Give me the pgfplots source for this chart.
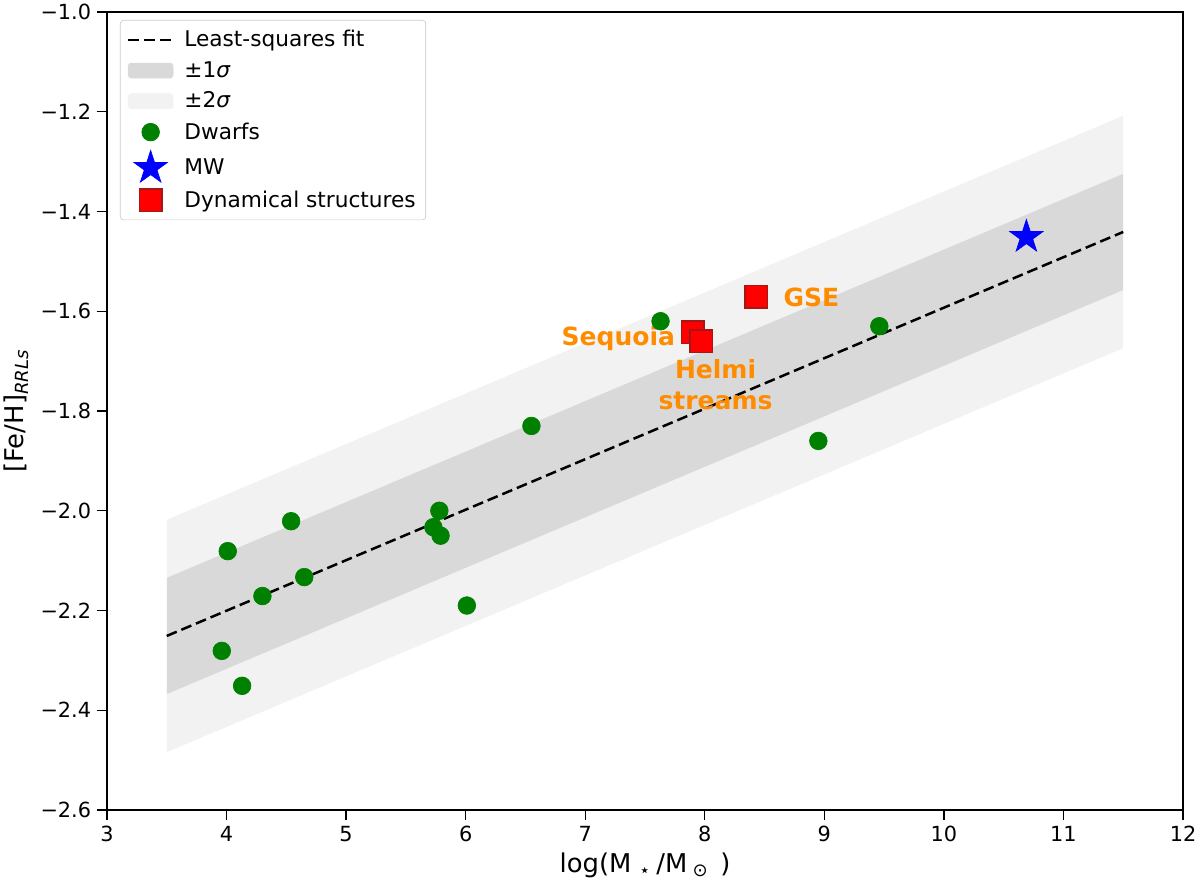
\documentclass[border=0pt]{standalone}
\usepackage{fontspec}
\setmainfont{DejaVu Sans}
\usepackage{pgfplots}
\pgfplotsset{compat=1.18}
\definecolor{sigone}{HTML}{D9D9D9}
\definecolor{sigtwo}{HTML}{F2F2F2}
\definecolor{dgreen}{HTML}{008000}
\definecolor{dorange}{HTML}{FF8C00}
\definecolor{sqedge}{HTML}{A01818}
\pgfdeclareplotmark{fstar}{%
 \pgfpathmoveto{\pgfpointpolar{90}{\pgfplotmarksize}}%
 \pgfpathlineto{\pgfpointpolar{126}{0.382\pgfplotmarksize}}%
 \pgfpathlineto{\pgfpointpolar{162}{\pgfplotmarksize}}%
 \pgfpathlineto{\pgfpointpolar{198}{0.382\pgfplotmarksize}}%
 \pgfpathlineto{\pgfpointpolar{234}{\pgfplotmarksize}}%
 \pgfpathlineto{\pgfpointpolar{270}{0.382\pgfplotmarksize}}%
 \pgfpathlineto{\pgfpointpolar{306}{\pgfplotmarksize}}%
 \pgfpathlineto{\pgfpointpolar{342}{0.382\pgfplotmarksize}}%
 \pgfpathlineto{\pgfpointpolar{18}{\pgfplotmarksize}}%
 \pgfpathlineto{\pgfpointpolar{54}{0.382\pgfplotmarksize}}%
 \pgfpathclose\pgfusepathqfillstroke}
\begin{document}
\begin{tikzpicture}
\begin{axis}[
  scale only axis, width=645.6pt, height=478.8pt,
  xmin=3, xmax=12, ymin=-2.6, ymax=-1.0,
  xtick={3,4,5,6,7,8,9,10,11,12},
  ytick={-2.6,-2.4,-2.2,-2.0,-1.8,-1.6,-1.4,-1.2,-1.0},
  yticklabels={−2.6,−2.4,−2.2,−2.0,−1.8,−1.6,−1.4,−1.2,−1.0},
  tick align=outside, tick pos=left,
  major tick length=6pt,
  tick style={black, line width=0.8pt},
  axis line style={line width=0.8pt},
  ticklabel style={font=\fontsize{12.5}{14}\selectfont},
  label style={font=\fontsize{15.5}{18}\selectfont},
  xlabel={log(M\hspace{0.3em}\textsubscript{⋆}\hspace{0.2em}/M\hspace{0.2em}\textsubscript{⊙}\hspace{0.45em})},
  ylabel={[Fe/H]\textsubscript{\textit{RRLs}}},
  /pgf/number format/assume math mode=true,
  legend cell align=left,
  legend style={at={(0.012,0.99)}, anchor=north west, draw=black!20, rounded corners=2pt,
    font=\fontsize{13}{15.5}\selectfont, row sep=3.3pt, column sep=4pt, inner sep=4pt},
  legend image code/.code={\draw[mark repeat=2,mark phase=2,#1] plot coordinates {(0pt,0pt)(13.5pt,0pt)(27pt,0pt)};},
]
\coordinate (sw) at (rel axis cs:0,0);
\coordinate (ne) at (rel axis cs:1,1);
% bands
\addplot[fill=sigtwo, draw=none, forget plot] coordinates {(3.5,-2.018) (11.5,-1.208) (11.5,-1.674) (3.5,-2.484)} -- cycle;
\addplot[fill=sigone, draw=none, forget plot] coordinates {(3.5,-2.1345) (11.5,-1.3245) (11.5,-1.5575) (3.5,-2.3675)} -- cycle;
% fit
\addplot[black, line width=1.5pt, dash pattern=on 6.5pt off 3pt] coordinates {(3.5,-2.251) (11.5,-1.441)};
\addlegendentry{Least-squares fit}
\addlegendimage{legend image code/.code={\fill[sigone] (0pt,-4.5pt) rectangle (27pt,4.5pt);}}
\addlegendentry{±1\textit{σ}}
\addlegendimage{legend image code/.code={\fill[sigtwo] (0pt,-4.5pt) rectangle (27pt,4.5pt);}}
\addlegendentry{±2\textit{σ}}
% dwarfs
\addplot[only marks, mark=*, mark size=5.3pt, color=dgreen, mark options={draw=dgreen, fill=dgreen}] coordinates {
 (4.01,-2.081) (3.96,-2.281) (4.13,-2.351) (4.30,-2.171) (4.54,-2.021) (4.65,-2.133)
 (5.73,-2.033) (5.78,-2.000) (5.79,-2.050) (6.01,-2.190) (6.55,-1.830) (7.63,-1.620)
 (8.95,-1.860) (9.46,-1.630)};
\addlegendentry{Dwarfs}
\addplot[only marks, mark=fstar, mark size=10.5pt, color=blue, mark options={draw=blue, fill=blue}] coordinates {(10.69,-1.451)};
\addlegendentry{MW}
\addplot[only marks, mark=square*, mark size=6.8pt, mark options={draw=sqedge, fill=red, line width=0.8pt}] coordinates {
 (8.43,-1.571) (7.90,-1.642) (7.97,-1.660)};
\addlegendentry{Dynamical structures}
% annotations
\node[anchor=west, text=dorange, font=\fontsize{15}{17}\selectfont\bfseries] at (axis cs:8.61,-1.573) {GSE};
\node[anchor=east, text=dorange, font=\fontsize{15}{17}\selectfont\bfseries] at (axis cs:7.80,-1.654) {Sequoia};
\node[align=center, text=dorange, font=\fontsize{15}{18.5}\selectfont\bfseries, inner sep=0pt] at (axis cs:8.09,-1.748) {Helmi\\streams};
\end{axis}
\pgfresetboundingbox
\path ([shift={(-64.2pt,-47.4pt)}]sw) rectangle ([shift={(10.2pt,7.2pt)}]ne);
\end{tikzpicture}
\end{document}
